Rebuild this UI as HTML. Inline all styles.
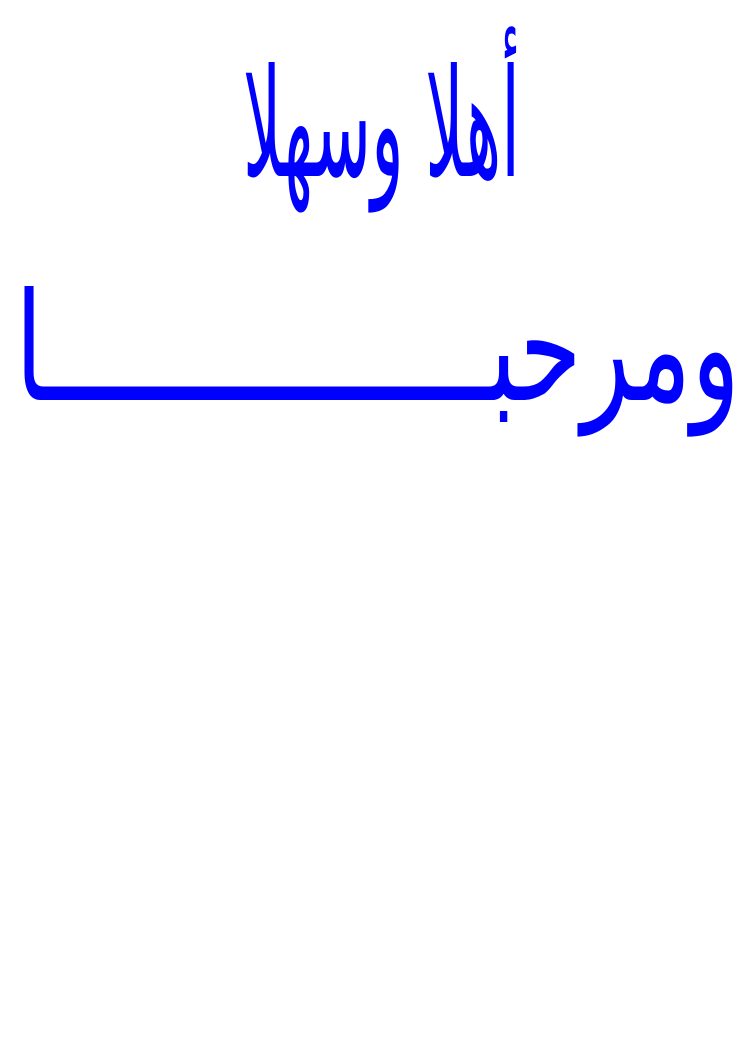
<!DOCTYPE html>
<html>
<head>
<meta charset="utf-8">
<style>
  html, body { margin: 0; padding: 0; background: #ffffff; }
  body { width: 744px; height: 1052px; overflow: hidden; }
  svg { display: block; }
  text { font-family: "DejaVu Sans", "Liberation Sans", sans-serif; font-weight: normal; fill: #0000ff; }
</style>
</head>
<body>
<svg width="744" height="1052" viewBox="0 0 744 1052" xmlns="http://www.w3.org/2000/svg">
  <text x="243" y="176" font-size="150" textLength="277" lengthAdjust="spacingAndGlyphs">أهلا وسهلا</text>
  <text x="15" y="400" font-size="150" textLength="725" lengthAdjust="spacingAndGlyphs">ومرحبـــــــــــــــا</text>
</svg>
</body>
</html>
